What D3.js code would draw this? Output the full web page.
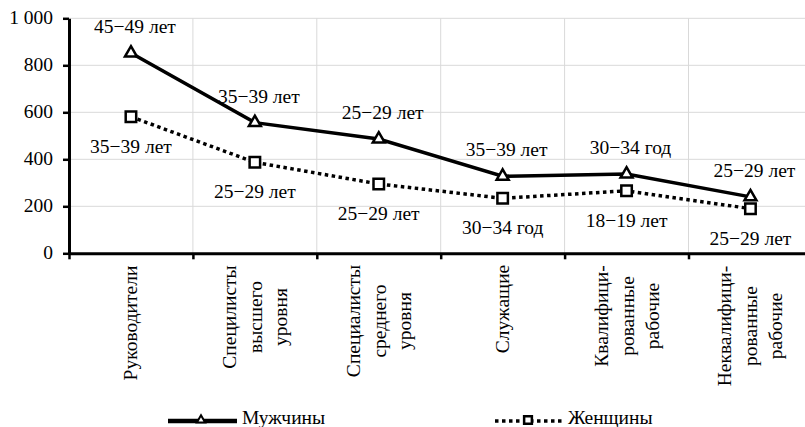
<!DOCTYPE html>
<html>
<head>
<meta charset="utf-8">
<script src="https://cdn.jsdelivr.net/npm/d3@7"></script>
<style>
  html, body { margin: 0; background: #fff; overflow: hidden; }
  #wrap { position: relative; width: 805px; height: 427px; overflow: hidden; }
  #wrap svg { position: absolute; left: 0; top: 0; display: block; }
  #labels { position: absolute; left: 0; top: 0; width: 805px; height: 427px;
    font-family: "Liberation Serif", "Times New Roman", serif; font-size: 19.5px; color: #000; }
  #labels div { position: absolute; white-space: nowrap; line-height: 19.5px; }
  #labels div.cat { line-height: 25.5px; text-align: center; }
</style>
</head>
<body>
<div id="wrap">
  <svg id="chart" width="805" height="427"></svg>
  <div id="labels"></div>
</div>
<script>
// categories (each entry = the lines of a rotated label)
var categories = [
  ["Руководители"],
  ["Специлисты", "высшего", "уровня"],
  ["Специалисты", "среднего", "уровня"],
  ["Служащие"],
  ["Квалифици-", "рованные", "рабочие"],
  ["Неквалифици-", "рованные", "рабочие"]
];
var menValues = [852, 556, 486, 328, 337, 240];
var womenValues = [581, 387, 295, 234, 266, 190];
var menLabels = ["45\u221249 лет", "35\u221239 лет", "25\u221229 лет", "35\u221239 лет", "30\u221234 год", "25\u221229 лет"];
var womenLabels = ["35\u221239 лет", "25\u221229 лет", "25\u221229 лет", "30\u221234 год", "18\u221219 лет", "25\u221229 лет"];
var yTicks = [0, 200, 400, 600, 800, 1000];
var seriesNames = ["Мужчины", "Женщины"];

var plotLeft = 69, plotRight = 812.4, plotTop = 18.3, plotBottom = 253.3;

var svg = d3.select("#chart");
var layer = d3.select("#labels");

var x = d3.scaleBand().domain(d3.range(categories.length)).range([plotLeft, plotRight]);
var xb = d3.scaleLinear().domain([0, categories.length]).range([plotLeft, plotRight]);
var y = d3.scaleLinear().domain([0, 1000]).range([plotBottom, plotTop]);
function cx(i) { return x(i) + x.bandwidth() / 2; }

// html text (svg text does not pick up the serif face here)
var shift = { start: "0", middle: "-50%", end: "-100%" };
function label(str, px, py, anchor) {
  return layer.append("div")
    .style("left", px + "px").style("top", py + "px")
    .style("transform", "translate(" + shift[anchor] + ",-50%)")
    .text(str);
}

// grid
svg.append("g").selectAll("line")
  .data(yTicks.filter(function(d){ return d > 0; }))
  .enter().append("line")
  .attr("x1", plotLeft).attr("x2", plotRight)
  .attr("y1", function(d){ return y(d); }).attr("y2", function(d){ return y(d); })
  .attr("stroke", "#d9d9d9").attr("stroke-width", 1);

svg.append("g").selectAll("line")
  .data(d3.range(1, categories.length + 1))
  .enter().append("line")
  .attr("x1", function(d){ return xb(d); }).attr("x2", function(d){ return xb(d); })
  .attr("y1", plotTop).attr("y2", plotBottom)
  .attr("stroke", "#d9d9d9").attr("stroke-width", 1);

// lines
var line = d3.line()
  .x(function(d, i){ return cx(i); })
  .y(function(d){ return y(d); });

svg.append("path").datum(menValues)
  .attr("d", line).attr("fill", "none")
  .attr("stroke", "#000").attr("stroke-width", 3.5);

svg.append("path").datum(womenValues)
  .attr("d", line).attr("fill", "none")
  .attr("stroke", "#000").attr("stroke-width", 3.5)
  .attr("stroke-dasharray", "3.5,3.5");

// axes
var yAxis = d3.axisLeft(y).tickValues(yTicks).tickSize(6).tickSizeOuter(0).tickFormat("");
var gy = svg.append("g").attr("transform", "translate(" + plotLeft + ",0)").call(yAxis);
gy.select(".domain").attr("stroke-width", 3);
gy.selectAll(".tick line").attr("stroke-width", 2.5);

yTicks.forEach(function(d){
  label(d3.format(",")(d).replace(",", " "), 53, y(d), "end");
});

var xAxis = d3.axisBottom(xb).tickValues(d3.range(0, categories.length + 1))
  .tickSize(6).tickSizeOuter(0).tickFormat("");
var gx = svg.append("g").attr("transform", "translate(0," + plotBottom + ")").call(xAxis);
gx.select(".domain").attr("stroke-width", 3);
gx.selectAll(".tick line").attr("stroke-width", 2.5);

// markers
var tri = d3.symbol().type(d3.symbolTriangle).size(62);
var sq = d3.symbol().type(d3.symbolSquare).size(110);

svg.append("g").selectAll("path")
  .data(menValues).enter().append("path")
  .attr("d", tri)
  .attr("transform", function(d, i){ return "translate(" + cx(i) + "," + y(d) + ")"; })
  .attr("fill", "#fff").attr("stroke", "#000").attr("stroke-width", 2.5);

svg.append("g").selectAll("path")
  .data(womenValues).enter().append("path")
  .attr("d", sq)
  .attr("transform", function(d, i){ return "translate(" + cx(i) + "," + y(d) + ")"; })
  .attr("fill", "#fff").attr("stroke", "#000").attr("stroke-width", 2.5);

// data labels
menValues.forEach(function(d, i){ label(menLabels[i], cx(i) + 4, y(d) - 26, "middle"); });
womenValues.forEach(function(d, i){ label(womenLabels[i], cx(i), y(d) + 30, "middle"); });

// category labels, rotated, block starts just under the axis
categories.forEach(function(lines, i){
  var div = layer.append("div").attr("class", "cat").html(lines.join("<br>"));
  var w = div.node().offsetWidth;
  div.style("left", cx(i) + "px")
    .style("top", (265 + w / 2) + "px")
    .style("transform", "translate(-50%,-50%) rotate(-90deg)");
});

// legend
var legend = svg.append("g");
legend.append("line").attr("x1", 168).attr("x2", 237).attr("y1", 421).attr("y2", 421)
  .attr("stroke", "#000").attr("stroke-width", 4.5);
legend.append("path").attr("d", d3.symbol().type(d3.symbolTriangle).size(30))
  .attr("transform", "translate(201,420)")
  .attr("fill", "#fff").attr("stroke", "#000").attr("stroke-width", 2);
label(seriesNames[0], 242, 418.4, "start");

legend.append("line").attr("x1", 495).attr("x2", 563).attr("y1", 421).attr("y2", 421)
  .attr("stroke", "#000").attr("stroke-width", 3.5).attr("stroke-dasharray", "3.5,3.5");
legend.append("path").attr("d", d3.symbol().type(d3.symbolSquare).size(60))
  .attr("transform", "translate(528,420)")
  .attr("fill", "#fff").attr("stroke", "#000").attr("stroke-width", 2.5);
label(seriesNames[1], 568, 418.4, "start");
</script>
</body>
</html>
